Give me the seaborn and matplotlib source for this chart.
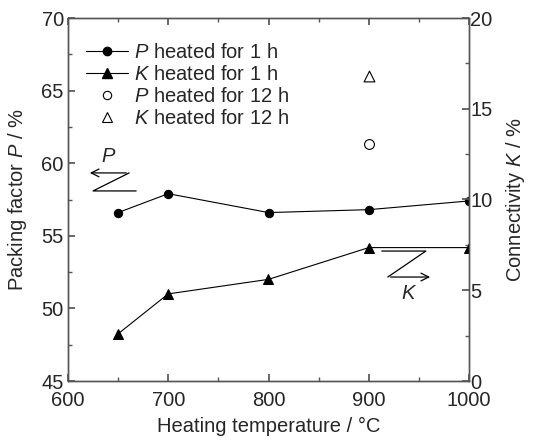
import matplotlib
matplotlib.use("Agg")
import matplotlib.pyplot as plt
import seaborn as sns
import pandas as pd
from matplotlib.lines import Line2D

temps = [650, 700, 800, 900, 1000]
p_1h = [56.6, 57.9, 56.6, 56.8, 57.4]
k_1h = [2.6, 4.8, 5.6, 7.35, 7.35]
temp_12h = [900]
p_12h = [61.3]
k_12h = [16.8]

sns.set_theme(style="ticks")
plt.rcParams['font.family'] = ['Liberation Sans', 'DejaVu Sans']
plt.rcParams['mathtext.fontset'] = 'custom'
plt.rcParams['mathtext.it'] = 'Liberation Sans:italic'
plt.rcParams['mathtext.rm'] = 'Liberation Sans'

fs = 14.5
fig = plt.figure(figsize=(5.48, 4.4), dpi=100)
ax = fig.add_axes([68/548, 1-381/440, 401/548, 363/440])
ax2 = ax.twinx()

df1 = pd.DataFrame({"T": temps, "P": p_1h, "K": k_1h})
df12 = pd.DataFrame({"T": temp_12h, "P": p_12h, "K": k_12h})

sns.lineplot(data=df1, x="T", y="P", ax=ax, color="black", lw=0.8,
             marker="o", markersize=6, markeredgecolor="black", legend=False)
sns.scatterplot(data=df12, x="T", y="P", ax=ax, marker="o", s=50,
                facecolor="white", edgecolor="black", linewidth=0.8, legend=False)
sns.lineplot(data=df1, x="T", y="K", ax=ax2, color="black", lw=0.8,
             marker="^", markersize=7, markeredgecolor="black", legend=False)
sns.scatterplot(data=df12, x="T", y="K", ax=ax2, marker="^", s=60,
                facecolor="white", edgecolor="black", linewidth=0.8, legend=False)

ax.set_xlim(600, 1000)
ax.set_ylim(45, 70)
ax2.set_ylim(0, 20)
ax.set_xticks([600, 700, 800, 900, 1000])
ax.set_xticks([650, 750, 850, 950], minor=True)
ax.set_yticks([45, 50, 55, 60, 65, 70])
ax.set_yticks([47.5, 52.5, 57.5, 62.5, 67.5], minor=True)
ax2.set_yticks([0, 5, 10, 15, 20])
ax2.set_yticks([2.5, 7.5, 12.5, 17.5], minor=True)

spine_c = "#555555"
for a in (ax, ax2):
    for s in a.spines.values():
        s.set_color(spine_c)
        s.set_linewidth(1.0)
    a.tick_params(which="both", direction="in", color=spine_c, labelsize=fs, top=True)
    a.tick_params(which="major", length=5)
    a.tick_params(which="minor", length=3)
ax.tick_params(which="both", right=False, pad=3)
ax2.tick_params(which="both", left=False, pad=1)
ax.tick_params(axis="x", pad=7)

ax.set_xlabel("Heating temperature / °C", fontsize=fs, labelpad=5)
ax.set_ylabel("Packing factor $P$ / %", fontsize=fs, labelpad=9)
ax2.set_ylabel("Connectivity $K$ / %", fontsize=fs, labelpad=8)

# Z-shaped annotations
arr = dict(arrowstyle="->", color="black", lw=0.9, mutation_scale=14)
ax.plot([661, 625, 668], [59.33, 58.09, 58.09], color="black", lw=0.9)
ax.annotate("", xy=(619, 59.33), xytext=(661, 59.33), arrowprops=arr)
ax.text(641, 60.43, "$P$", fontsize=fs, ha="center", va="center")
ax.plot([913, 957, 919], [53.95, 53.95, 52.16], color="black", lw=0.9)
ax.annotate("", xy=(964, 52.16), xytext=(919, 52.16), arrowprops=arr)
ax.text(940, 51.06, "$K$", fontsize=fs, ha="center", va="center")

handles = [
    Line2D([], [], color="black", lw=0.8, marker="o", markersize=6),
    Line2D([], [], color="black", lw=0.8, marker="^", markersize=7),
    Line2D([], [], color="black", lw=0, marker="o", markersize=6, markerfacecolor="white", markeredgewidth=0.8),
    Line2D([], [], color="black", lw=0, marker="^", markersize=7, markerfacecolor="white", markeredgewidth=0.8),
]
labels = ["$P$ heated for 1 h", "$K$ heated for 1 h", "$P$ heated for 12 h", "$K$ heated for 12 h"]
ax.legend(handles, labels, loc="upper left", bbox_to_anchor=(0.045, 0.93), frameon=False,
          fontsize=fs, handlelength=2.1, handletextpad=0.3, labelspacing=0.15, borderaxespad=0,
          borderpad=0)

fig.savefig("out.png", dpi=100)
